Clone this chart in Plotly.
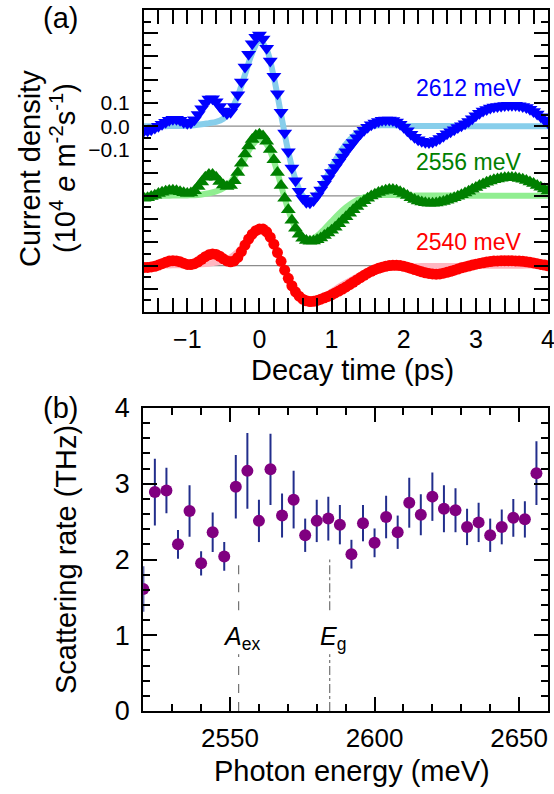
import numpy as np
import plotly.graph_objects as go

# ---------------- panel (a): transient current density ----------------
photon_labels = ["2612 meV", "2556 meV", "2540 meV"]
trace_offsets = [0.0, -0.3, -0.6]

t_start, t_step_data, t_step_fit = -1.6, 0.05, 0.1

current_2612 = [
    -0.020, -0.020, -0.015, -0.008, 0.000, 0.008, 0.017, 0.025, 0.030, 0.030,
    0.025, 0.017, 0.012, 0.015, 0.028, 0.050, 0.075, 0.100, 0.117, 0.118,
    0.105, 0.085, 0.065, 0.055, 0.060, 0.085, 0.135, 0.190, 0.255, 0.310,
    0.355, 0.383, 0.392, 0.375, 0.335, 0.280, 0.215, 0.140, 0.060, -0.030,
    -0.110, -0.180, -0.235, -0.280, -0.310, -0.328, -0.330, -0.320, -0.300, -0.275,
    -0.250, -0.225, -0.200, -0.178, -0.155, -0.133, -0.110, -0.090, -0.070, -0.050,
    -0.033, -0.018, -0.005, 0.006, 0.014, 0.020, 0.025, 0.027, 0.027, 0.024,
    0.018, 0.008, -0.005, -0.020, -0.035, -0.048, -0.058, -0.065, -0.069, -0.070,
    -0.068, -0.062, -0.053, -0.043, -0.033, -0.024, -0.015, -0.006, 0.002, 0.010,
    0.020, 0.032, 0.045, 0.056, 0.065, 0.072, 0.078, 0.082, 0.085, 0.087,
    0.089, 0.090, 0.090, 0.090, 0.088, 0.085, 0.080, 0.073, 0.063, 0.052,
    0.040, 0.027, 0.015,
]
current_2556 = [
    -0.010, -0.008, -0.003, 0.003, 0.010, 0.015, 0.020, 0.023, 0.024, 0.022,
    0.018, 0.013, 0.010, 0.012, 0.022, 0.040, 0.060, 0.080, 0.092, 0.092,
    0.080, 0.062, 0.047, 0.040, 0.045, 0.065, 0.100, 0.140, 0.180, 0.215,
    0.243, 0.260, 0.265, 0.258, 0.235, 0.200, 0.155, 0.100, 0.045, -0.010,
    -0.060, -0.105, -0.140, -0.165, -0.182, -0.192, -0.195, -0.194, -0.189, -0.181,
    -0.171, -0.160, -0.148, -0.135, -0.120, -0.105, -0.090, -0.075, -0.060, -0.046,
    -0.033, -0.021, -0.010, -0.001, 0.007, 0.014, 0.020, 0.024, 0.027, 0.027,
    0.024, 0.018, 0.010, 0.001, -0.008, -0.016, -0.022, -0.027, -0.030, -0.032,
    -0.032, -0.031, -0.028, -0.024, -0.019, -0.014, -0.008, -0.002, 0.005, 0.012,
    0.020, 0.028, 0.036, 0.044, 0.051, 0.058, 0.064, 0.069, 0.073, 0.076,
    0.078, 0.079, 0.079, 0.078, 0.075, 0.071, 0.066, 0.060, 0.053, 0.045,
    0.037, 0.029, 0.021,
]
current_2540 = [
    -0.008, -0.008, -0.006, -0.003, 0.002, 0.008, 0.014, 0.019, 0.021, 0.020,
    0.016, 0.010, 0.005, 0.004, 0.008, 0.016, 0.027, 0.038, 0.046, 0.050,
    0.048, 0.040, 0.029, 0.020, 0.016, 0.020, 0.035, 0.060, 0.088, 0.114,
    0.135, 0.150, 0.157, 0.157, 0.145, 0.122, 0.092, 0.056, 0.018, -0.020,
    -0.055, -0.087, -0.113, -0.132, -0.145, -0.152, -0.155, -0.154, -0.150, -0.145,
    -0.139, -0.133, -0.126, -0.118, -0.110, -0.101, -0.092, -0.082, -0.072, -0.062,
    -0.052, -0.042, -0.033, -0.025, -0.018, -0.012, -0.007, -0.003, 0.000, 0.001,
    0.001, 0.000, -0.003, -0.007, -0.012, -0.017, -0.022, -0.027, -0.031, -0.034,
    -0.036, -0.037, -0.036, -0.033, -0.029, -0.025, -0.020, -0.015, -0.010, -0.006,
    -0.002, 0.002, 0.006, 0.009, 0.012, 0.015, 0.017, 0.019, 0.020, 0.021,
    0.021, 0.021, 0.021, 0.020, 0.019, 0.018, 0.016, 0.014, 0.011, 0.008,
    0.005, 0.002, -0.001,
]

fit_2612 = [
    0.000, 0.000, 0.000, 0.000, 0.001, 0.001, 0.002, 0.004, 0.008, 0.013,
    0.018, 0.032, 0.065, 0.130, 0.222, 0.315, 0.368, 0.330, 0.210, 0.050,
    -0.110, -0.230, -0.300, -0.318, -0.290, -0.237, -0.177, -0.122, -0.077, -0.043,
    -0.019, -0.005, 0.002, 0.004, 0.004, 0.003, 0.002, 0.001, 0.001, 0.001,
    0.001, 0.001, 0.001, 0.001, 0.000, 0.000, 0.000, 0.000, 0.000, 0.000,
    0.000, 0.000, 0.000, 0.000, 0.000, 0.000, 0.000,
]
fit_2556 = [
    0.000, 0.000, 0.000, 0.000, 0.001, 0.001, 0.002, 0.003, 0.006, 0.011,
    0.019, 0.033, 0.060, 0.103, 0.163, 0.218, 0.245, 0.222, 0.150, 0.045,
    -0.060, -0.140, -0.182, -0.188, -0.172, -0.143, -0.110, -0.078, -0.050, -0.028,
    -0.012, -0.002, 0.003, 0.004, 0.004, 0.003, 0.002, 0.001, 0.001, 0.001,
    0.001, 0.001, 0.001, 0.001, 0.000, 0.000, 0.000, 0.000, 0.000, 0.000,
    0.000, 0.000, 0.000, 0.000, 0.000, 0.000, 0.000,
]
fit_2540 = [
    0.000, 0.000, 0.000, 0.000, 0.001, 0.001, 0.002, 0.003, 0.005, 0.008,
    0.013, 0.021, 0.036, 0.060, 0.093, 0.127, 0.148, 0.140, 0.092, 0.018,
    -0.057, -0.113, -0.143, -0.152, -0.146, -0.131, -0.112, -0.092, -0.073, -0.056,
    -0.041, -0.029, -0.020, -0.013, -0.009, -0.006, -0.004, -0.003, -0.003, -0.002,
    -0.002, -0.002, -0.002, -0.002, -0.001, -0.001, -0.001, -0.001, -0.001, -0.001,
    -0.001, -0.001, -0.001, 0.000, 0.000, 0.000, 0.000,
]

# ---------------- panel (b): scattering rate ----------------
photon_energy = [
    2520, 2524, 2528, 2532, 2536, 2540, 2544, 2548, 2552, 2556,
    2560, 2564, 2568, 2572, 2576, 2580, 2584, 2588, 2592, 2596,
    2600, 2604, 2608, 2612, 2616, 2620, 2624, 2628, 2632, 2636,
    2640, 2644, 2648, 2652, 2656,
]
scattering_rate = [
    1.61, 2.89, 2.91, 2.20, 2.64, 1.95, 2.36, 2.04, 2.96, 3.17,
    2.51, 3.19, 2.58, 2.79, 2.32, 2.51, 2.54, 2.46, 2.07, 2.48,
    2.22, 2.56, 2.36, 2.75, 2.59, 2.83, 2.67, 2.65, 2.43, 2.49,
    2.32, 2.43, 2.55, 2.53, 3.14,
]
rate_error = [
    0.30, 0.44, 0.30, 0.19, 0.34, 0.16, 0.26, 0.19, 0.42, 0.50,
    0.28, 0.47, 0.29, 0.38, 0.22, 0.28, 0.29, 0.26, 0.19, 0.24,
    0.19, 0.28, 0.22, 0.33, 0.27, 0.32, 0.31, 0.29, 0.24, 0.26,
    0.22, 0.23, 0.25, 0.24, 0.42,
]
edge_energy = [2553, 2584.5]
edge_labels = ["<i>A</i><sub>ex</sub>", "<i>E</i><sub>g</sub>"]

# ---------------- styling ----------------
W, H = 554, 794
FONT = "Liberation Sans, Arial, sans-serif"
marker_colors = ["#0000FF", "#008000", "#FF0000"]
fit_colors = ["#87CEEB", "#90EE90", "#FFB6C1"]
marker_symbols = ["triangle-down", "triangle-up", "circle"]
marker_sizes = [13, 13, 11]

def px_x(p):
    return p / W

def px_y(p):
    return 1 - p / H

fig = go.Figure()

data_series = [current_2612, current_2556, current_2540]
fit_series = [fit_2612, fit_2556, fit_2540]

shapes = []
for off in trace_offsets:
    shapes.append(dict(type="line", xref="x", yref="y", x0=-1.6, x1=4.0, y0=off, y1=off,
                       line=dict(color="#8c8c8c", width=1.3), layer="below"))

for vals, off, col in zip(fit_series, trace_offsets, fit_colors):
    tf = np.round(t_start + t_step_fit * np.arange(len(vals)), 3)
    fig.add_trace(go.Scatter(x=tf, y=np.array(vals) + off, mode="lines",
                             line=dict(color=col, width=6, shape="spline"),
                             showlegend=False, xaxis="x", yaxis="y"))

for vals, off, col, sym, sz in zip(data_series, trace_offsets, marker_colors,
                                   marker_symbols, marker_sizes):
    td = np.round(t_start + t_step_data * np.arange(len(vals)), 3)
    fig.add_trace(go.Scatter(x=td, y=np.array(vals) + off, mode="markers",
                             marker=dict(color=col, symbol=sym, size=sz, line=dict(width=0)),
                             showlegend=False, xaxis="x", yaxis="y"))

# empty trace that carries the unlabeled major-tick axis of panel (a)
fig.add_trace(go.Scatter(x=[None], y=[None], mode="markers", showlegend=False,
                         hoverinfo="skip", xaxis="x", yaxis="y3"))

# panel (b) markers with error bars
fig.add_trace(go.Scatter(x=photon_energy, y=scattering_rate, mode="markers",
                         marker=dict(color="#800080", size=12),
                         error_y=dict(type="data", array=rate_error, color="#222e8c",
                                      thickness=2, width=0),
                         showlegend=False, xaxis="x2", yaxis="y2"))

# dashed guide lines for the exciton and band-gap energies
for e, dash in zip(edge_energy, ["dash", "dashdot"]):
    for seg in ([0.0, 0.75], [1.33, 2.0]):
        fig.add_trace(go.Scatter(x=[e, e], y=seg, mode="lines",
                                 line=dict(color="#555555", width=1, dash=dash),
                                 showlegend=False, xaxis="x2", yaxis="y2"))

axis_common = dict(showline=True, linewidth=2, linecolor="black", mirror="allticks",
                   ticks="inside", ticklen=14, tickwidth=2, tickcolor="black",
                   showgrid=False, zeroline=False, automargin=False,
                   ticklabeloverflow="allow")

def tfont(size):
    return dict(family=FONT, size=size, color="black")

def minor_ticks(tick0, dtick):
    return dict(tickmode="linear", tick0=tick0, dtick=dtick, ticklen=7,
                tickwidth=2, tickcolor="black", ticks="inside")

y_major = [round(v, 1) for v in np.arange(-0.8, 0.51, 0.1)]
y_labeled = [0.1, 0.0, -0.1]
y_labels = ["0.1", "0.0", "\u22120.1"]
ya_domain = [px_y(312), px_y(10)]

fig.update_layout(
    template="none",
    width=W, height=H,
    margin=dict(l=0, r=0, t=0, b=0, autoexpand=False),
    paper_bgcolor="white", plot_bgcolor="white",
    font=dict(family=FONT, color="black"),
    shapes=shapes,
    xaxis=dict(domain=[px_x(144), px_x(548)], range=[-1.6, 4.0], anchor="y",
               tickmode="array", tickvals=[-1, 0, 1, 2, 3, 4],
               ticktext=["\u22121", "0", "1", "2", "3", "4"],
               minor=minor_ticks(0, 0.2), tickfont=tfont(25),
               ticklabelstandoff=4, **axis_common),
    yaxis=dict(domain=ya_domain, range=[-0.8, 0.5], anchor="x",
               tickmode="array", tickvals=y_labeled, ticktext=y_labels,
               minor=minor_ticks(0, 0.05), tickfont=tfont(21),
               ticklabelstandoff=8, **axis_common),
    yaxis3=dict(domain=ya_domain, range=[-0.8, 0.5], anchor="x", overlaying="y",
                side="left", tickmode="array", tickvals=y_major,
                showticklabels=False, **axis_common),
    xaxis2=dict(domain=[px_x(143.3), px_x(548)], range=[2520, 2660], anchor="y2",
                tickmode="array", tickvals=[2550, 2600, 2650],
                minor=minor_ticks(2520, 10), tickfont=tfont(26),
                ticklabelstandoff=3, **axis_common),
    yaxis2=dict(domain=[px_y(711), px_y(408)], range=[0, 4], anchor="x2",
                tickmode="array", tickvals=[0, 1, 2, 3, 4],
                minor=minor_ticks(0, 0.2), tickfont=tfont(27),
                ticklabelstandoff=6, **axis_common),
)

title_font = dict(family=FONT, size=29, color="black")
label_pos = [(2.91, 0.164), (2.91, -0.153), (2.91, -0.497)]
annotations = []
for txt, (lx, ly), col in zip(photon_labels, label_pos, marker_colors):
    annotations.append(dict(text=txt, x=lx, y=ly, xref="x", yref="y", showarrow=False,
                            xanchor="center", yanchor="middle",
                            font=dict(family=FONT, size=23, color=col)))
for e, lab in zip(edge_energy, edge_labels):
    annotations.append(dict(text=lab, x=e + 1.0, y=0.97, xref="x2", yref="y2", showarrow=False,
                            xanchor="center", yanchor="middle",
                            font=dict(family=FONT, size=25, color="black")))

def paper_text(txt, x, y, angle=0):
    return dict(text=txt, x=px_x(x), y=px_y(y), xref="paper", yref="paper",
                showarrow=False, xanchor="center", yanchor="middle",
                textangle=angle, font=title_font)

annotations += [
    paper_text("(a)", 60, 18),
    paper_text("(b)", 60, 408),
    paper_text("Decay time (ps)", 352, 370),
    paper_text("Photon energy (meV)", 352, 771),
    paper_text("Current density", 30, 169, -90),
    paper_text("(10<sup>4</sup> <i>e</i> m<sup>-2</sup>s<sup>-1</sup>)", 63, 168, -90),
    paper_text("Scattering rate (THz)", 66, 560, -90),
]
fig.update_layout(annotations=annotations)

fig.write_html("out.html")
